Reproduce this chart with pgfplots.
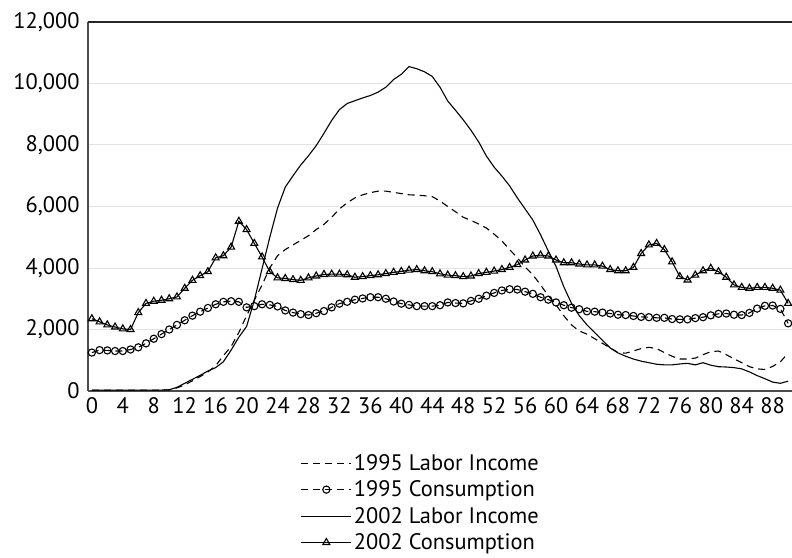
\documentclass[border=0pt]{standalone}
\usepackage{fontspec}
\setmainfont{PT Sans}
\usepackage{pgfplots}
\usepackage{pgfplotstable}
\pgfplotsset{compat=1.18}

% age, 1995 labor income, 1995 consumption, 2002 labor income, 2002 consumption
\pgfplotstableread{
age l95 c95 l02 c02
0 30 1250 30 2350
1 30 1330 30 2250
2 30 1320 30 2150
3 30 1300 30 2080
4 30 1300 30 2020
5 30 1350 30 2000
6 30 1420 30 2550
7 30 1550 30 2850
8 30 1700 30 2920
9 30 1850 30 2950
10 40 2000 40 3000
11 100 2150 120 3060
12 200 2300 250 3340
13 330 2450 380 3600
14 470 2580 510 3750
15 620 2700 650 3880
16 820 2820 760 4330
17 1150 2900 950 4400
18 1450 2920 1330 4680
19 1900 2900 1750 5520
20 2450 2720 2100 5250
21 2950 2760 2950 4800
22 3450 2820 3980 4360
23 4000 2800 5000 3880
24 4400 2750 5950 3680
25 4600 2620 6630 3660
26 4750 2550 7000 3620
27 4900 2500 7350 3600
28 5050 2470 7650 3680
29 5250 2530 7980 3740
30 5420 2600 8380 3790
31 5650 2720 8800 3800
32 5920 2840 9150 3800
33 6120 2900 9350 3780
34 6280 2970 9440 3700
35 6380 3010 9530 3720
36 6450 3050 9610 3750
37 6500 3050 9720 3780
38 6500 3000 9880 3820
39 6460 2910 10130 3860
40 6420 2840 10300 3890
41 6380 2800 10550 3930
42 6370 2760 10480 3950
43 6350 2760 10380 3910
44 6320 2760 10230 3880
45 6180 2790 9880 3810
46 6000 2880 9430 3770
47 5830 2860 9130 3750
48 5650 2850 8820 3720
49 5550 2930 8480 3740
50 5430 3000 8100 3820
51 5300 3100 7640 3860
52 5100 3190 7280 3900
53 4880 3270 6990 3950
54 4600 3310 6670 4020
55 4330 3300 6280 4110
56 4030 3230 5920 4260
57 3780 3160 5560 4390
58 3450 3050 5080 4420
59 3100 2970 4550 4390
60 2800 2880 4050 4260
61 2450 2790 3390 4170
62 2150 2710 2850 4170
63 1950 2660 2450 4130
64 1850 2590 2150 4100
65 1700 2580 1900 4100
66 1550 2550 1650 4060
67 1400 2520 1400 3950
68 1250 2480 1240 3910
69 1230 2470 1130 3910
70 1300 2440 1040 4020
71 1380 2410 970 4470
72 1420 2400 920 4750
73 1380 2380 870 4800
74 1250 2380 850 4600
75 1130 2340 850 4200
76 1040 2330 880 3720
77 1040 2330 900 3610
78 1070 2370 850 3770
79 1180 2400 920 3910
80 1280 2460 840 3990
81 1300 2510 790 3880
82 1180 2520 780 3700
83 1050 2480 760 3450
84 920 2470 720 3370
85 790 2540 620 3340
86 720 2680 500 3370
87 700 2770 400 3370
88 800 2780 290 3340
89 950 2670 250 3280
90 1230 2200 320 2850
}\lcdata

\begin{document}
\begin{tikzpicture}
\useasboundingbox (-88bp,-167bp) rectangle (704bp,391bp);
\begin{axis}[
  at={(0,0)}, anchor=south west,
  scale only axis, width=704bp, height=369bp,
  xmin=-0.5, xmax=90.5, ymin=0, ymax=12000,
  xtick={0,4,...,88}, ytick={0,2000,...,12000},
  scaled y ticks=false,
  major tick length=0pt,
  axis x line*=bottom, axis y line*=left,
  axis line style={gray!60!black, line width=1.2bp},
  ymajorgrids, grid style={gray!22, line width=1bp},
  tick label style={font=\fontsize{22.5}{26}\selectfont, black},
  /pgf/number format/assume math mode=true,
  /pgf/number format/1000 sep={,},
  yticklabel style={xshift=-5bp},
  xticklabel style={yshift=-3bp},
  legend cell align=left,
  legend style={at={(0.302,-0.166)}, anchor=north west, draw=none, fill=none,
    inner sep=0pt, row sep=5bp, font=\fontsize{22.5}{26}\selectfont},
  legend image code/.code={\draw[mark repeat=2,mark phase=2,#1]
    plot coordinates {(0bp,0bp) (25bp,0bp) (50bp,0bp)};},
]
\draw[black!85, line width=1.2bp] (rel axis cs:0,1) -- (rel axis cs:1,1);
\addplot[black, line width=1.1bp, dash pattern=on 7bp off 5bp] table[x=age,y=l95] {\lcdata};
\addlegendentry{1995 Labor Income}
\addplot[black, line width=1.1bp, dash pattern=on 7bp off 5bp, mark=o, mark size=3.6bp,
  mark options={solid, line width=1.1bp}] table[x=age,y=c95] {\lcdata};
\addlegendentry{1995 Consumption}
\addplot[black, line width=1.1bp] table[x=age,y=l02] {\lcdata};
\addlegendentry{2002 Labor Income}
\addplot[black, line width=1.1bp, mark=triangle, mark size=4bp,
  mark options={solid, fill=white, line width=1.1bp}] table[x=age,y=c02] {\lcdata};
\addlegendentry{2002 Consumption}
\end{axis}
\end{tikzpicture}
\end{document}
